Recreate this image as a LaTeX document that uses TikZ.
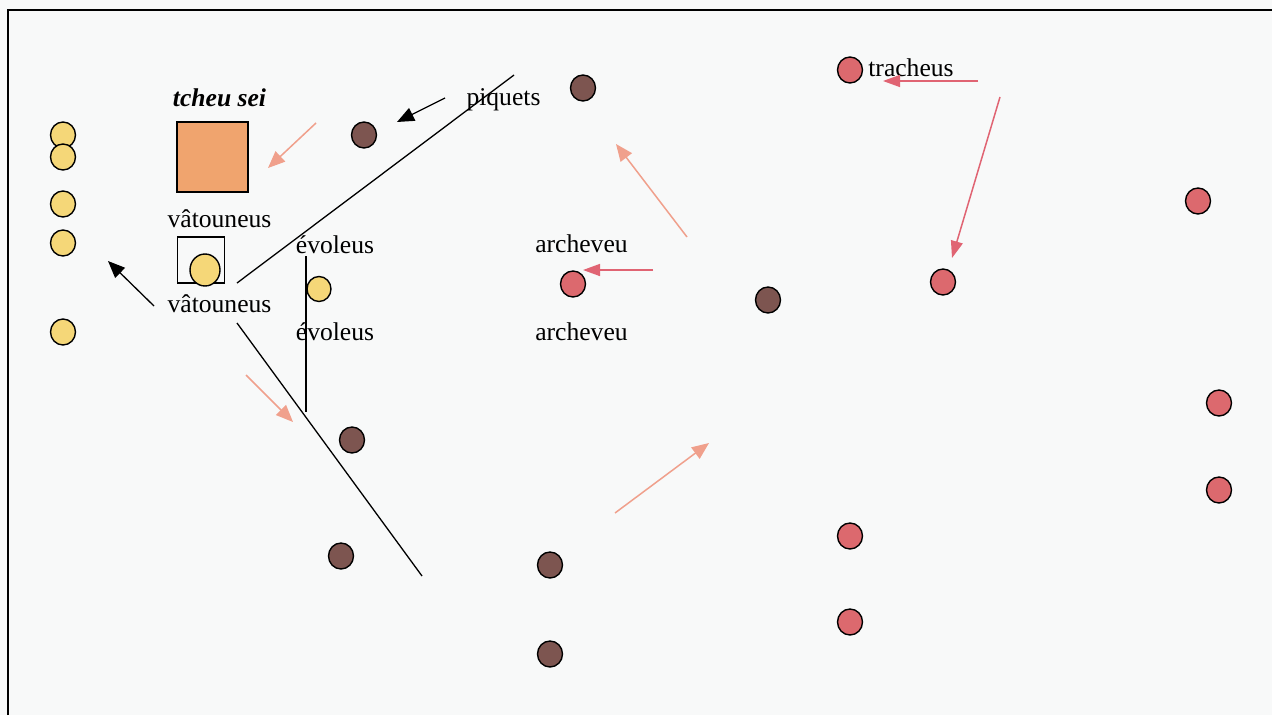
\documentclass[tikz,border=0pt]{standalone}
\usepackage{fontspec}
\setmainfont{Liberation Serif}
\usetikzlibrary{shapes.geometric,arrows.meta}
\definecolor{bgc}{RGB}{248,249,249}
\definecolor{salmon}{RGB}{240,160,140}
\definecolor{redarr}{RGB}{224,100,115}
\definecolor{sqorange}{RGB}{240,164,110}
\definecolor{yel}{RGB}{245,215,120}
\definecolor{brn}{RGB}{125,85,80}
\definecolor{redc}{RGB}{220,105,110}
\tikzset{
  dot/.style={ellipse,draw=black,line width=1.4pt,minimum width=25pt,minimum height=26pt,inner sep=0pt},
  ydot/.style={dot,fill=yel},
  bdot/.style={dot,fill=brn},
  rdot/.style={dot,fill=redc},
  lbl/.style={anchor=base,inner sep=0pt,font=\fontsize{25.6}{30}\selectfont},
  blk/.style={draw=black,line width=1.3pt},
  sarr/.style={draw=salmon,line width=1.5pt,-{Triangle[length=17pt,width=14pt]}},
  rarr/.style={draw=redarr,line width=1.5pt,-{Triangle[length=17pt,width=12pt]}},
  karr/.style={draw=black,line width=1.3pt,-{Triangle[length=17pt,width=14pt]}},
}
\begin{document}
\begin{tikzpicture}[x=1pt,y=-1pt]
\useasboundingbox (0,0) rectangle (1272,715);
\fill[bgc] (0,0) rectangle (1272,715);
% frame
\draw[line width=2pt] (8,715) -- (8,10) -- (1272,10);

% yellow column
\node[ydot] (y1) at (63,135) {};
\node[ydot] (y2) at (63,157) {};
\node[ydot] (y3) at (63,204) {};
\node[ydot] (y4) at (63,243) {};
\node[ydot] (y5) at (63,332) {};

% tcheu sei square
\node[lbl,font=\fontsize{25.6}{30}\selectfont\bfseries\itshape] (tch) at (219.5,106) {tcheu sei};
\node[draw=black,line width=1.3pt,fill=sqorange,minimum width=71pt,minimum height=70pt,inner sep=0pt] (sq) at (212.5,157) {};
\node[lbl] (vat1) at (219.5,227) {vâtouneus};
\node[draw=black,line width=1.3pt,minimum width=47pt,minimum height=46pt,inner sep=0pt] (box) at (201,260) {};
\node[dot,fill=yel,minimum width=30pt,minimum height=32pt] (ybig) at (205,270) {};
\node[lbl] (vat2) at (219.5,312) {vâtouneus};

% evoleus
\node[lbl] (ev1) at (335,253) {évoleus};
\node[lbl] (ev2) at (335,340) {évoleus};
\node[ydot,minimum width=24pt,minimum height=25pt] (ymid) at (319,289) {};

% piquets, archeveu, tracheus
\node[lbl] (piq) at (503.5,105) {piquets};
\node[lbl] (arc1) at (581.5,252) {archeveu};
\node[lbl] (arc2) at (581.5,340) {archeveu};
\node[lbl] (tra) at (911,76) {tracheus};

% brown dots
\node[bdot] (b1) at (364,135) {};
\node[bdot] (b2) at (583,88) {};
\node[bdot] (b3) at (768,300) {};
\node[bdot] (b4) at (352,440) {};
\node[bdot] (b5) at (341,556) {};
\node[bdot] (b6) at (550,565) {};
\node[bdot] (b7) at (550,654) {};

% red dots
\node[rdot] (r0) at (573,284) {};
\node[rdot] (r1) at (850,70) {};
\node[rdot] (r2) at (943,282) {};
\node[rdot] (r3) at (1198,201) {};
\node[rdot] (r4) at (1219,403) {};
\node[rdot] (r5) at (1219,490) {};
\node[rdot] (r6) at (850,536) {};
\node[rdot] (r7) at (850,622) {};

% black lines
\coordinate (la1) at (237,283);
\coordinate (la2) at (514,75);
\coordinate (lb1) at (237,323);
\coordinate (lb2) at (422,576);
\coordinate (lc1) at (306,256);
\coordinate (lc2) at (306,412);
\draw[blk] (la1) -- (la2);
\draw[blk] (lb1) -- (lb2);
\draw[blk] (lc1) -- (lc2);

% arrows
\coordinate (k1s) at (154,306); \coordinate (k1e) at (108,261);
\coordinate (k2s) at (445,98);  \coordinate (k2e) at (397,122);
\draw[karr] (k1s) -- (k1e);
\draw[karr] (k2s) -- (k2e);

\coordinate (s1s) at (316,123); \coordinate (s1e) at (268,168);
\coordinate (s2s) at (246,375); \coordinate (s2e) at (293,422);
\coordinate (s3s) at (687,237); \coordinate (s3e) at (616,144);
\coordinate (s4s) at (615,513); \coordinate (s4e) at (709,443);
\draw[sarr] (s1s) -- (s1e);
\draw[sarr] (s2s) -- (s2e);
\draw[sarr] (s3s) -- (s3e);
\draw[sarr] (s4s) -- (s4e);

\coordinate (r1s) at (653,270); \coordinate (r1e) at (583,270);
\coordinate (r2s) at (978,81);  \coordinate (r2e) at (883,81);
\coordinate (r3s) at (1000,97); \coordinate (r3e) at (952,258);
\draw[rarr] (r1s) -- (r1e);
\draw[rarr] (r2s) -- (r2e);
\draw[rarr] (r3s) -- (r3e);
\end{tikzpicture}
\end{document}
